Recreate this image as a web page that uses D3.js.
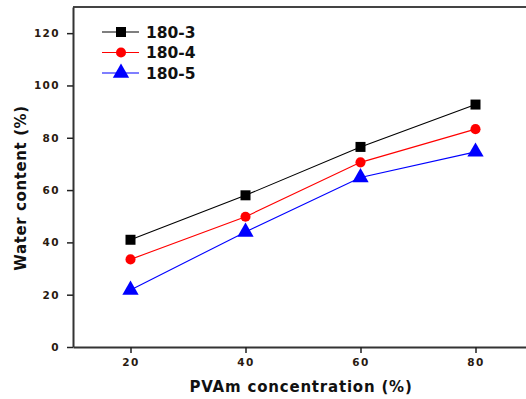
<!DOCTYPE html>
<html><head><meta charset="utf-8">
<script src="https://cdn.jsdelivr.net/npm/d3@7"></script>
<style>body{margin:0;background:#fff}svg{display:block}</style>
</head><body>
<svg id="c" width="526" height="399"></svg>
<script>
const categories = [20, 40, 60, 80];
const series3 = [41, 58, 76.5, 92.7];
const series4 = [33.5, 49.8, 70.6, 83.3];
const series5 = [21.8, 44, 64.8, 74.6];
const seriesNames = ["180-3", "180-4", "180-5"];
const seriesColors = ["#000000", "#ff0000", "#0000ff"];
const seriesSymbols = [d3.symbolSquare, d3.symbolCircle, d3.symbolTriangle];
const yTicks = [0, 20, 40, 60, 80, 100, 120];
const xTicks = [20, 40, 60, 80];

const svg = d3.select("#c");
const x = d3.scaleLinear().domain([10, 90]).range([73, 533]);
const y = d3.scaleLinear().domain([0, 130]).range([347, 7]);
const allSeries = [series3, series4, series5];
const symSizes = [100, 80, 115];

// frame top
svg.append("line").attr("x1", 73).attr("x2", 526).attr("y1", y(130)).attr("y2", y(130))
  .attr("stroke", "#444").attr("stroke-width", 2);

const xAxis = svg.append("g").attr("transform", `translate(0,${y(0)})`)
  .call(d3.axisBottom(x).tickValues(xTicks).tickSize(6).tickPadding(6).tickSizeOuter(0));
const yAxis = svg.append("g").attr("transform", `translate(${x(10)},0)`)
  .call(d3.axisLeft(y).tickValues(yTicks).tickSize(6).tickPadding(7).tickSizeOuter(0));
[xAxis, yAxis].forEach(a => {
  a.select(".domain").attr("stroke", "#333").attr("stroke-width", 2);
  a.selectAll(".tick line").attr("stroke", "#222").attr("stroke-width", 1.5);
  a.selectAll(".tick text").attr("font-family", "DejaVu Sans, Verdana, sans-serif")
    .attr("font-weight", "bold").attr("font-size", 10.5).attr("fill", "#2a1a10")
    .attr("letter-spacing", 1.4);
});

const line = d3.line().x((d, i) => x(categories[i])).y(d => y(d));
allSeries.forEach((s, k) => {
  svg.append("path").datum(s).attr("d", line).attr("fill", "none")
    .attr("stroke", seriesColors[k]).attr("stroke-width", 1.1);
  svg.selectAll(null).data(s).enter().append("path")
    .attr("transform", (d, i) => `translate(${x(categories[i])},${y(d)})`)
    .attr("d", d3.symbol().type(seriesSymbols[k]).size(symSizes[k]))
    .attr("fill", seriesColors[k]);
});

// legend
const legY = [32, 52.5, 73];
seriesNames.forEach((n, k) => {
  const g = svg.append("g");
  g.append("line").attr("x1", 102).attr("x2", 139).attr("y1", legY[k]).attr("y2", legY[k])
    .attr("stroke", seriesColors[k]).attr("stroke-width", 1.1);
  g.append("path").attr("transform", `translate(121,${legY[k]})`)
    .attr("d", d3.symbol().type(seriesSymbols[k]).size(symSizes[k])).attr("fill", seriesColors[k]);
  g.append("text").attr("x", 146).attr("y", legY[k] + 5.5).text(n)
    .attr("font-family", "DejaVu Sans, Verdana, sans-serif").attr("font-weight", "bold")
    .attr("font-size", 15.5).attr("fill", "#111");
});

svg.append("text").attr("transform", `translate(26,188) rotate(-90)`)
  .attr("text-anchor", "middle").text("Water content (%)")
  .attr("font-family", "DejaVu Sans, Verdana, sans-serif").attr("font-weight", "bold")
  .attr("font-size", 15).attr("fill", "#111").attr("letter-spacing", 0.6);
svg.append("text").attr("x", 301).attr("y", 392)
  .attr("text-anchor", "middle").text("PVAm concentration (%)")
  .attr("font-family", "DejaVu Sans, Verdana, sans-serif").attr("font-weight", "bold")
  .attr("font-size", 15).attr("fill", "#111").attr("letter-spacing", 0.8);
</script>
</body></html>
